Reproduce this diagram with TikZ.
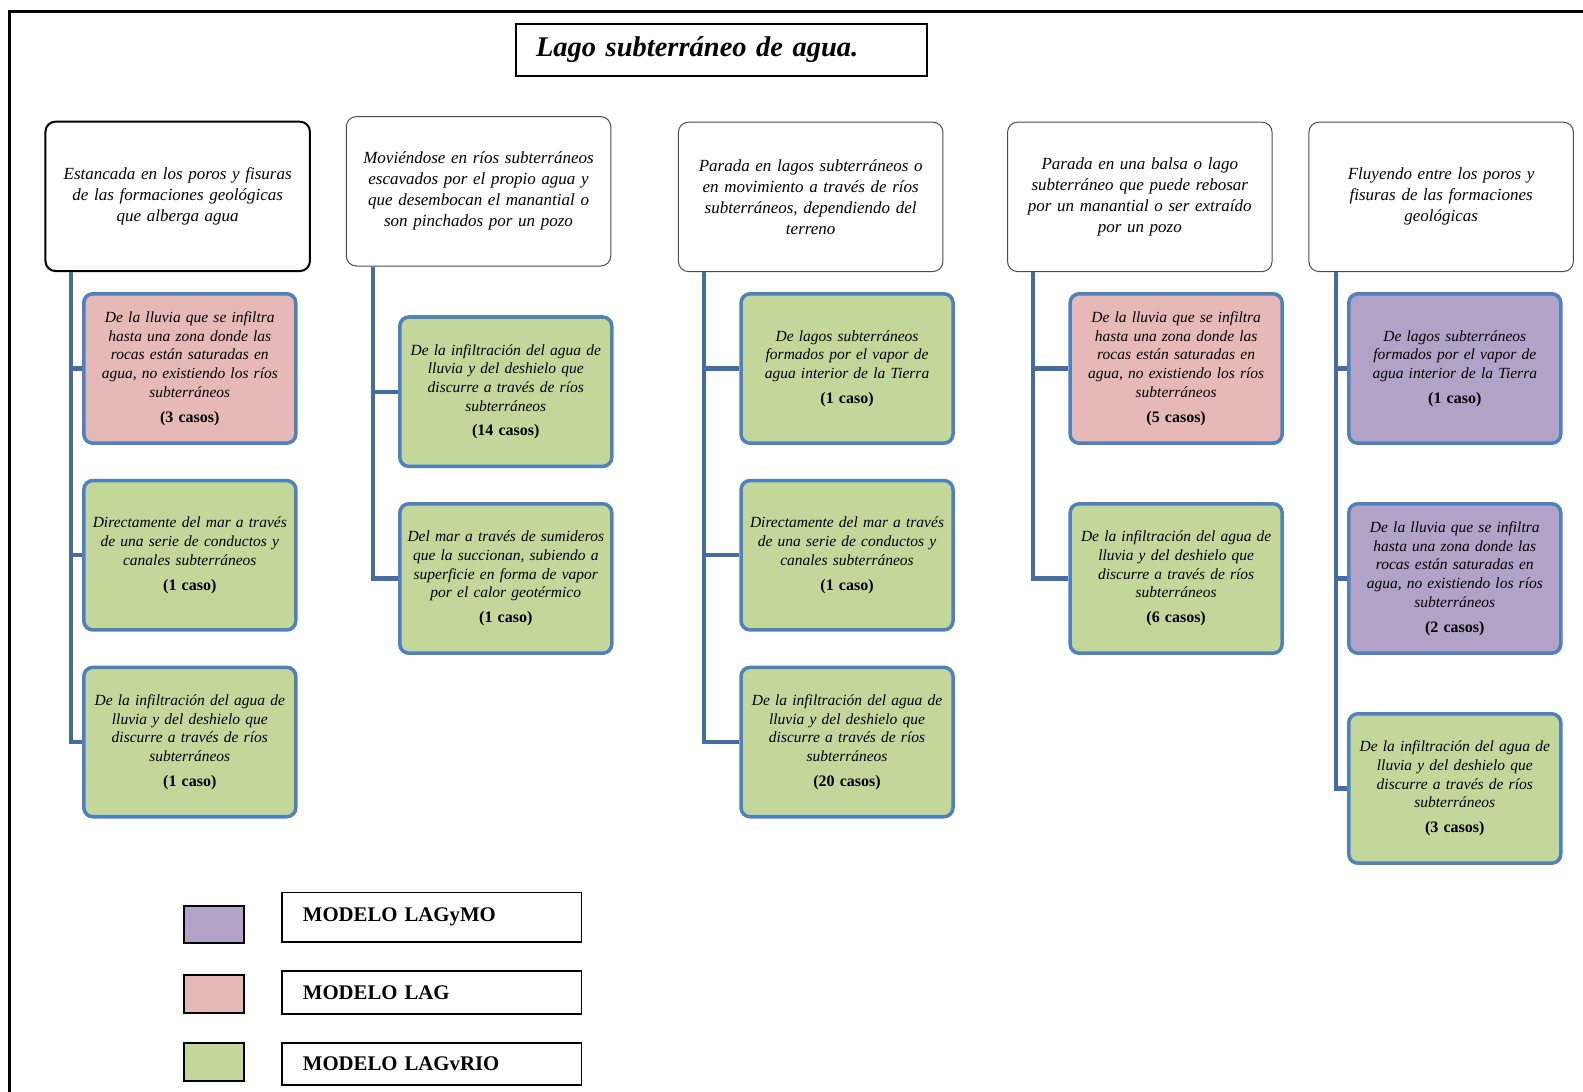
\documentclass[tikz,border=0pt]{standalone}
\usepackage{fontspec}
\setmainfont{Liberation Serif}
\newlength\px \setlength\px{1.0096pt}
\definecolor{boxblue}{RGB}{79,129,189}
\definecolor{linkblue}{RGB}{70,108,160}
\definecolor{fillpink}{RGB}{230,185,184}
\definecolor{fillgreen}{RGB}{196,215,155}
\definecolor{fillpurple}{RGB}{179,162,199}
\tikzset{
  head/.style={draw=black!70, line width=1pt, rounded corners=10\px, fill=white,
    minimum width=262\px, minimum height=148\px, text width=250\px, align=center,
    inner sep=0pt, font=\itshape\fontsize{17}{21}\selectfont},
  leaf/.style={draw=boxblue, line width=3.5\px, rounded corners=9\px,
    minimum width=210\px, minimum height=148\px, text width=200\px, align=center,
    inner sep=0pt, font=\itshape\fontsize{15.5}{18.7}\selectfont},
  lag/.style={leaf, fill=fillpink},
  rio/.style={leaf, fill=fillgreen},
  mo/.style={leaf, fill=fillpurple},
  link/.style={draw=linkblue, line width=4\px},
  swatch/.style={draw=black, line width=2\px, minimum width=60\px, minimum height=37\px, inner sep=0pt},
  legbox/.style={draw=black, line width=1.8\px, minimum width=297\px, inner xsep=21\px, inner ysep=0pt,
    text width=255\px, align=left, font=\bfseries\fontsize{20.8}{23}\selectfont},
}
\newcommand\casos[1]{\\[6\px]{\upshape\bfseries\fontsize{16}{18.7}\selectfont (#1)}}
\newcommand\txtlluvia{De la lluvia que se infiltra\\hasta una zona donde las\\rocas están saturadas en\\agua, no existiendo los ríos\\subterráneos}
\newcommand\txtmar{Directamente del mar a través\\de una serie de conductos y\\canales subterráneos}
\newcommand\txtinfil{De la infiltración del agua de\\lluvia y del deshielo que\\discurre a través de ríos\\subterráneos}
\newcommand\txtvapor{De lagos subterráneos\\formados por el vapor de\\agua interior de la Tierra}
\begin{document}
\begin{tikzpicture}[x=1.0096pt, y=-1.0096pt]
\useasboundingbox (0,0) rectangle (1568,1081);
% outer frame
\draw[line width=3\px] (9,1200) -- (9,11) -- (1700,11);

% title
\node[draw=black, line width=2\px, minimum width=407\px, minimum height=51\px,
  text width=367\px, inner xsep=20\px, align=left,
  font=\bfseries\itshape\fontsize{28.5}{30}\selectfont] (title) at (714.5,49.5) {Lago subterráneo de agua.};

% category boxes
\node[head, draw=black, line width=2\px] (h1) at (176,194.5) {Estancada en los poros y fisuras\\de las formaciones geológicas\\que alberga agua};
\node[head] (h2) at (474,189.5) {Moviéndose en ríos subterráneos\\escavados por el propio agua y\\que desembocan el manantial o\\son pinchados por un pozo};
\node[head] (h3) at (803,195) {Parada en lagos subterráneos o\\en movimiento a través de ríos\\subterráneos, dependiendo del\\terreno};
\node[head] (h4) at (1129,195) {Parada en una balsa o lago\\subterráneo que puede rebosar\\por un manantial o ser extraído\\por un pozo};
\node[head] (h5) at (1427.5,195) {Fluyendo entre los poros y\\fisuras de las formaciones\\geológicas};

% origin boxes
\node[lag] (c11) at (188,365) {\txtlluvia\casos{3 casos}};
\node[rio] (c12) at (188,550) {\txtmar\casos{1 caso}};
\node[rio] (c13) at (188,735) {\txtinfil\casos{1 caso}};

\node[rio] (c21) at (501,388) {De la infiltración del agua de\\lluvia y del deshielo que\\discurre a través de ríos\\subterráneos\casos{14 casos}};
\node[rio] (c22) at (501,573) {Del mar a través de sumideros\\que la succionan, subiendo a\\superficie en forma de vapor\\por el calor geotérmico\casos{1 caso}};

\node[rio] (c31) at (839,365) {\txtvapor\casos{1 caso}};
\node[rio] (c32) at (839,550) {\txtmar\casos{1 caso}};
\node[rio] (c33) at (839,735) {\txtinfil\casos{20 casos}};

\node[lag] (c41) at (1165,365) {\txtlluvia\casos{5 casos}};
\node[rio] (c42) at (1165,573) {\txtinfil\casos{6 casos}};

\node[mo] (c51) at (1441,365) {\txtvapor\casos{1 caso}};
\node[mo] (c52) at (1441,573) {\txtlluvia\casos{2 casos}};
\node[rio] (c53) at (1441,781) {\txtinfil\casos{3 casos}};

% trunks from each category down to its origin boxes
\coordinate (s1) at ([xshift=26\px]h1.south west);
\coordinate (s2) at ([xshift=27\px]h2.south west);
\coordinate (s3) at ([xshift=26\px]h3.south west);
\coordinate (s4) at ([xshift=26\px]h4.south west);
\coordinate (s5) at ([xshift=27\px]h5.south west);
\draw[link] (s1) |- (c13.west);
\draw[link] (s1 |- c11.west) -- (c11.west);
\draw[link] (s1 |- c12.west) -- (c12.west);
\draw[link] (s2) |- (c22.west);
\draw[link] (s2 |- c21.west) -- (c21.west);
\draw[link] (s3) |- (c33.west);
\draw[link] (s3 |- c31.west) -- (c31.west);
\draw[link] (s3 |- c32.west) -- (c32.west);
\draw[link] (s4) |- (c42.west);
\draw[link] (s4 |- c41.west) -- (c41.west);
\draw[link] (s5) |- (c53.west);
\draw[link] (s5 |- c51.west) -- (c51.west);
\draw[link] (s5 |- c52.west) -- (c52.west);

% legend
\node[swatch, fill=fillpurple] (k1) at (212,915.5) {};
\node[swatch, fill=fillpink] (k2) at (212,984.5) {};
\node[swatch, fill=fillgreen] (k3) at (212,1052) {};
\node[legbox, minimum height=49\px] (l1) at (427.5,908.5) {MODELO LAGyMO};
\node[legbox, minimum height=42\px] (l2) at (427.5,983) {MODELO LAG};
\node[legbox, minimum height=42\px] (l3) at (427.5,1054) {MODELO LAGvRIO};
\end{tikzpicture}
\end{document}
